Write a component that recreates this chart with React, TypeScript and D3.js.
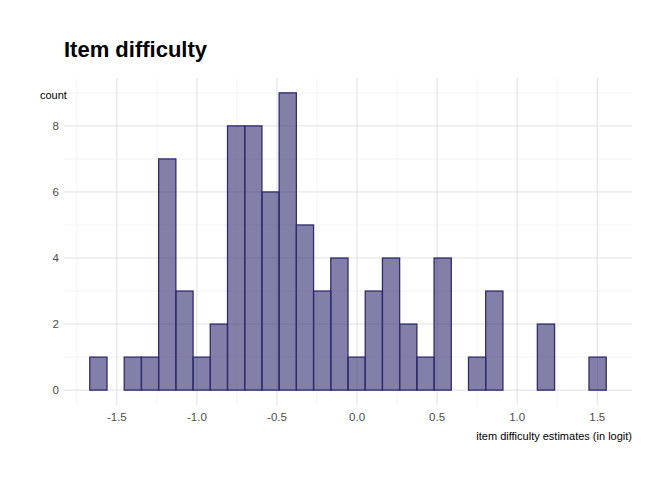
import React from 'react'
import * as d3 from 'd3'

const binStart = -1.669
const binWidth = 0.1075
const counts = [1, 0, 1, 1, 7, 3, 1, 2, 8, 8, 6, 9, 5, 3, 4, 1, 3, 4, 2, 1, 4, 0, 1, 3, 0, 0, 2, 0, 0, 1]
const xTicks = [-1.5, -1.0, -0.5, 0.0, 0.5, 1.0, 1.5]
const xMinor = [-1.75, -1.25, -0.75, -0.25, 0.25, 0.75, 1.25]
const yTicks = [0, 2, 4, 6, 8]
const yMinor = [1, 3, 5, 7, 9]

const W = 672
const H = 480
const font = "'Liberation Sans Narrow', 'Arial Narrow', 'Liberation Sans', Arial, sans-serif"

export default function App() {
  const x = d3.scaleLinear().domain([-1.83, 1.717]).range([64, 632])
  const y = d3.scaleLinear().domain([-0.45, 9.45]).range([405, 78])
  const bins = counts.map((c, i) => ({ x0: binStart + i * binWidth, x1: binStart + (i + 1) * binWidth, c }))
  const [pl, pr] = x.range()
  const [pb, pt] = y.range()
  return (
    <svg width={W} height={H} style={{ display: 'block', margin: -8, fontFamily: font }}>
      <rect width={W} height={H} fill="white" />
      {xMinor.map(v => <line key={'xm' + v} x1={x(v)} x2={x(v)} y1={pt} y2={pb} stroke="#ebebeb" strokeWidth={0.5} />)}
      {yMinor.map(v => <line key={'ym' + v} x1={pl} x2={pr} y1={y(v)} y2={y(v)} stroke="#ebebeb" strokeWidth={0.5} />)}
      {xTicks.map(v => <line key={'x' + v} x1={x(v)} x2={x(v)} y1={pt} y2={pb} stroke="#d9d9d9" strokeWidth={0.8} />)}
      {yTicks.map(v => <line key={'y' + v} x1={pl} x2={pr} y1={y(v)} y2={y(v)} stroke="#d9d9d9" strokeWidth={0.8} />)}
      {bins.map((b, i) => (
        <rect key={i} x={x(b.x0)} width={x(b.x1) - x(b.x0)} y={y(b.c)} height={y(0) - y(b.c)}
          fill="rgba(46,44,110,0.6)" stroke="#2e2c6e" strokeWidth={1.3} />
      ))}
      {xTicks.map(v => (
        <text key={'xt' + v} x={x(v)} y={pb + 16} textAnchor="middle" fontSize={11.5} fill="#4d4d4d">{v.toFixed(1)}</text>
      ))}
      {yTicks.map(v => (
        <text key={'yt' + v} x={pl - 5} y={y(v) + 4} textAnchor="end" fontSize={11.5} fill="#4d4d4d">{v}</text>
      ))}
      <text x={64} y={57} fontSize={22} fontWeight="bold" fill="black">Item difficulty</text>
      <text x={40} y={99} fontSize={11} fill="black" transform="rotate(0)">count</text>
      <text x={pr} y={440} textAnchor="end" fontSize={11} fill="black">item difficulty estimates (in logit)</text>
    </svg>
  )
}
